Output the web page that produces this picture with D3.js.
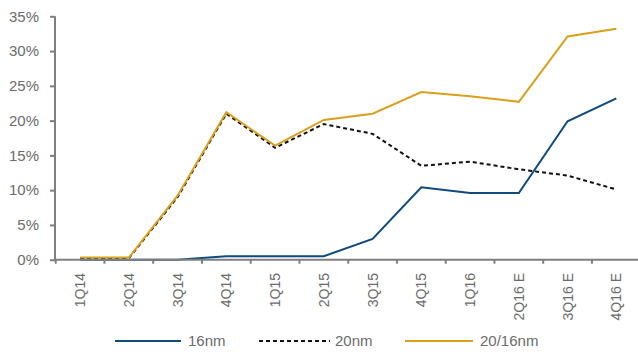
<!DOCTYPE html>
<html>
<head>
<meta charset="utf-8">
<script src="https://cdn.jsdelivr.net/npm/d3@7/dist/d3.min.js"></script>
<style>
  html, body { margin: 0; padding: 0; background: #fff; }
  svg { display: block; font-family: "Liberation Sans", Arial, sans-serif; }
</style>
</head>
<body>
<svg id="chart" width="638" height="352"></svg>
<script>
// Quarterly share of revenue by process node
const quarters = ["1Q14","2Q14","3Q14","4Q14","1Q15","2Q15","3Q15","4Q15","1Q16","2Q16 E","3Q16 E","4Q16 E"];
const nm16  = [0, 0, 0, 0.5, 0.5, 0.5, 3.0, 10.4, 9.6, 9.6, 19.9, 23.2];
const nm20  = [0.2, 0.2, 9.0, 21.0, 16.1, 19.5, 18.1, 13.5, 14.1, 13.0, 12.1, 10.1];
const nm2016 = [0.3, 0.3, 9.2, 21.2, 16.4, 20.1, 21.0, 24.1, 23.5, 22.7, 32.1, 33.2];
const yTicks = [0, 5, 10, 15, 20, 25, 30, 35];

const seriesList = [
  { name: "16nm",    values: nm16,   color: "#0e4a7b", dash: null },
  { name: "20nm",    values: nm20,   color: "#111111", dash: "4,3" },
  { name: "20/16nm", values: nm2016, color: "#d8a01c", dash: null }
];

const svg = d3.select("#chart");
const axisColor = "#7f7f7f";
const textColor = "#6b6b6b";

const x = d3.scaleBand().domain(quarters).range([55.7, 55.7 + 12 * 48.75]).paddingInner(0).paddingOuter(0);
const y = d3.scaleLinear().domain([0, 35]).range([259.7, 16.3]);

// series lines
const line = d3.line()
  .x((d, i) => x(quarters[i]) + x.bandwidth() / 2)
  .y(d => y(d));

seriesList.forEach(s => {
  svg.append("path")
    .datum(s.values)
    .attr("fill", "none")
    .attr("stroke", s.color)
    .attr("stroke-width", 2)
    .attr("stroke-linejoin", "miter")
    .attr("stroke-dasharray", s.dash)
    .attr("d", line);
});

// y axis
const yAxis = svg.append("g").attr("transform", "translate(55,0)")
  .call(d3.axisLeft(y).tickValues(yTicks).tickSize(5).tickPadding(11).tickFormat(d => d + "%"));
yAxis.select(".domain").attr("stroke", axisColor).attr("stroke-width", 2).attr("d", `M0,${y(35)}V${y(0)}`);
yAxis.selectAll(".tick line").attr("stroke", axisColor).attr("stroke-width", 2);
yAxis.selectAll(".tick text").attr("fill", textColor).style("font-size", "15px").style("font-family", "Liberation Sans, Arial, sans-serif");

// x axis: ticks on band edges, labels rotated at band centres
const xg = svg.append("g");
xg.append("line")
  .attr("x1", 54).attr("x2", 638)
  .attr("y1", y(0)).attr("y2", y(0))
  .attr("stroke", axisColor).attr("stroke-width", 2);
quarters.forEach(q => {
  xg.append("line")
    .attr("x1", x(q)).attr("x2", x(q))
    .attr("y1", y(0)).attr("y2", y(0) + 4)
    .attr("stroke", axisColor).attr("stroke-width", 2);
  xg.append("text")
    .attr("transform", `translate(${x(q) + x.bandwidth() / 2},273) rotate(-90)`)
    .attr("text-anchor", "end")
    .attr("dy", "0.36em")
    .attr("fill", textColor)
    .style("font-size", "14px")
    .text(q);
});

// legend
const legendItems = [
  { s: seriesList[0], x0: 115, x1: 181, tx: 188 },
  { s: seriesList[1], x0: 259, x1: 330, tx: 335 },
  { s: seriesList[2], x0: 405, x1: 473, tx: 480 }
];
const lg = svg.append("g");
legendItems.forEach(it => {
  lg.append("line")
    .attr("x1", it.x0).attr("x2", it.x1)
    .attr("y1", 341).attr("y2", 341)
    .attr("stroke", it.s.color)
    .attr("stroke-width", 2)
    .attr("stroke-dasharray", it.s.dash);
  lg.append("text")
    .attr("x", it.tx).attr("y", 341)
    .attr("dy", "0.36em")
    .attr("fill", textColor)
    .style("font-size", "15px")
    .text(it.s.name);
});
</script>
</body>
</html>
